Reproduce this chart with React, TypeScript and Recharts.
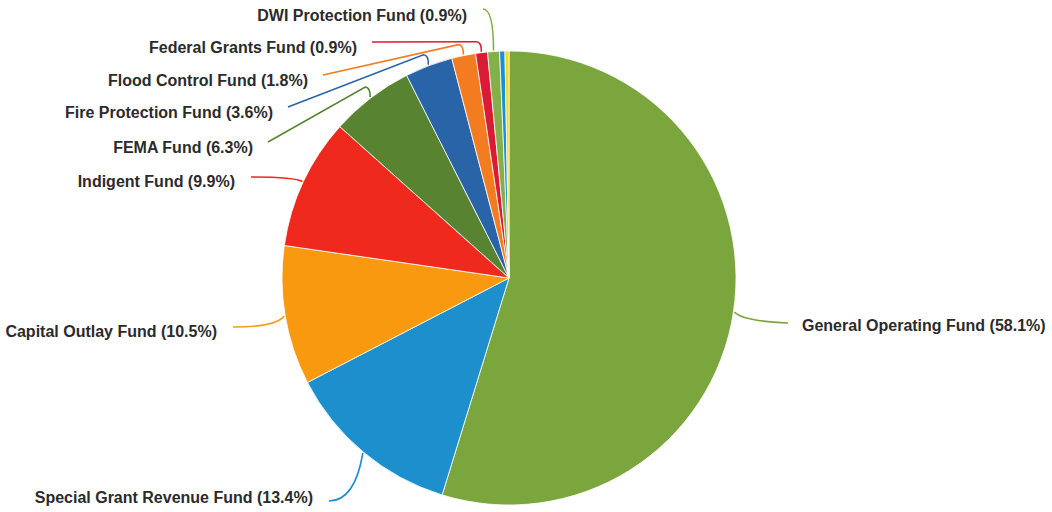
import { PieChart, Pie, Cell } from 'recharts';

// ── Data ────────────────────────────────────────────────────
const FUNDS = [
  'General Operating Fund',
  'Special Grant Revenue Fund',
  'Capital Outlay Fund',
  'Indigent Fund',
  'FEMA Fund',
  'Fire Protection Fund',
  'Flood Control Fund',
  'Federal Grants Fund',
  'DWI Protection Fund',
  'Other A',
  'Other B',
];
const SHARES = [58.1, 13.4, 10.5, 9.9, 6.3, 3.6, 1.8, 0.9, 0.9, 0.4, 0.3];
const SHOW_LABEL = [true, true, true, true, true, true, true, true, true, false, false];

const COLORS = [
  '#7aa63d', '#1c8fcc', '#f9990f', '#f0291e', '#588432',
  '#2a64a8', '#f47c20', '#d91b33', '#84b04a', '#1890d5', '#f2d81f',
];

// label placement (text x / baseline y) and leader style
const LABEL_SPOTS = [
  { x: 802, y: 331, anchor: 'start', kind: 'curve' },
  { x: 313, y: 503, anchor: 'end', kind: 'curve' },
  { x: 217, y: 337, anchor: 'end', kind: 'curve' },
  { x: 235, y: 187, anchor: 'end', kind: 'curve' },
  { x: 253, y: 153, anchor: 'end', kind: 'elbow' },
  { x: 273, y: 118, anchor: 'end', kind: 'elbow' },
  { x: 308, y: 86, anchor: 'end', kind: 'elbow' },
  { x: 357, y: 53, anchor: 'end', kind: 'elbow' },
  { x: 467, y: 21, anchor: 'end', kind: 'hook' },
];

const data = FUNDS.map((name, i) => ({ name, value: SHARES[i] }));

const RAD = Math.PI / 180;
const FONT = "'Liberation Sans', Arial, sans-serif";

function renderLabel(props: any) {
  const { cx, cy, midAngle, outerRadius, index } = props;
  if (!SHOW_LABEL[index]) return null;
  const spot = LABEL_SPOTS[index];
  const ax = cx + (outerRadius + 1) * Math.cos(-midAngle * RAD);
  const ay = cy + (outerRadius + 1) * Math.sin(-midAngle * RAD);
  const color = COLORS[index];
  let d = '';
  if (spot.kind === 'curve') {
    if (spot.anchor === 'start') {
      const sx = spot.x - 14, sy = spot.y - 8;
      d = `M${ax},${ay} Q${ax + 8},${sy - 2} ${sx},${sy}`;
    } else {
      const sx = spot.x + 16;
      const sy = index === 1 ? spot.y - 2 : spot.y - 10;
      d = `M${sx},${sy} Q${ax - 8},${sy} ${ax},${ay}`;
    }
  } else if (spot.kind === 'elbow') {
    const sx = spot.x + 15, sy = spot.y - 11;
    const ex = ax - 5, ey = ay - 10;
    d = `M${sx},${sy} L${ex},${ey} Q${ax},${ey} ${ax},${ay}`;
  } else {
    const sx = spot.x + 16, sy = spot.y - 12;
    d = `M${sx},${sy} Q${ax},${sy} ${ax},${ay}`;
  }
  return (
    <g key={`lbl-${index}`}>
      <path d={d} stroke={color} strokeWidth={1.6} fill="none" />
      <text
        x={spot.x}
        y={spot.y}
        textAnchor={spot.anchor}
        fontFamily={FONT}
        fontWeight="bold"
        fontSize={16}
        fill="#2b2b2b"
      >
        {`${FUNDS[index]} (${SHARES[index].toFixed(1)}%)`}
      </text>
    </g>
  );
}

export default function App() {
  return (
    <div style={{ position: 'absolute', left: 0, top: 0, width: 1052, height: 512, background: '#fff' }}>
      <PieChart width={1052} height={512} margin={{ top: 0, right: 0, bottom: 0, left: 0 }}>
        <Pie
          data={data}
          dataKey="value"
          nameKey="name"
          cx={509}
          cy={278}
          outerRadius={227}
          startAngle={90}
          endAngle={-270}
          stroke="#fff"
          strokeWidth={0.8}
          label={renderLabel}
          labelLine={false}
          isAnimationActive={false}
        >
          {data.map((d, i) => (
            <Cell key={d.name} fill={COLORS[i]} />
          ))}
        </Pie>
      </PieChart>
    </div>
  );
}
